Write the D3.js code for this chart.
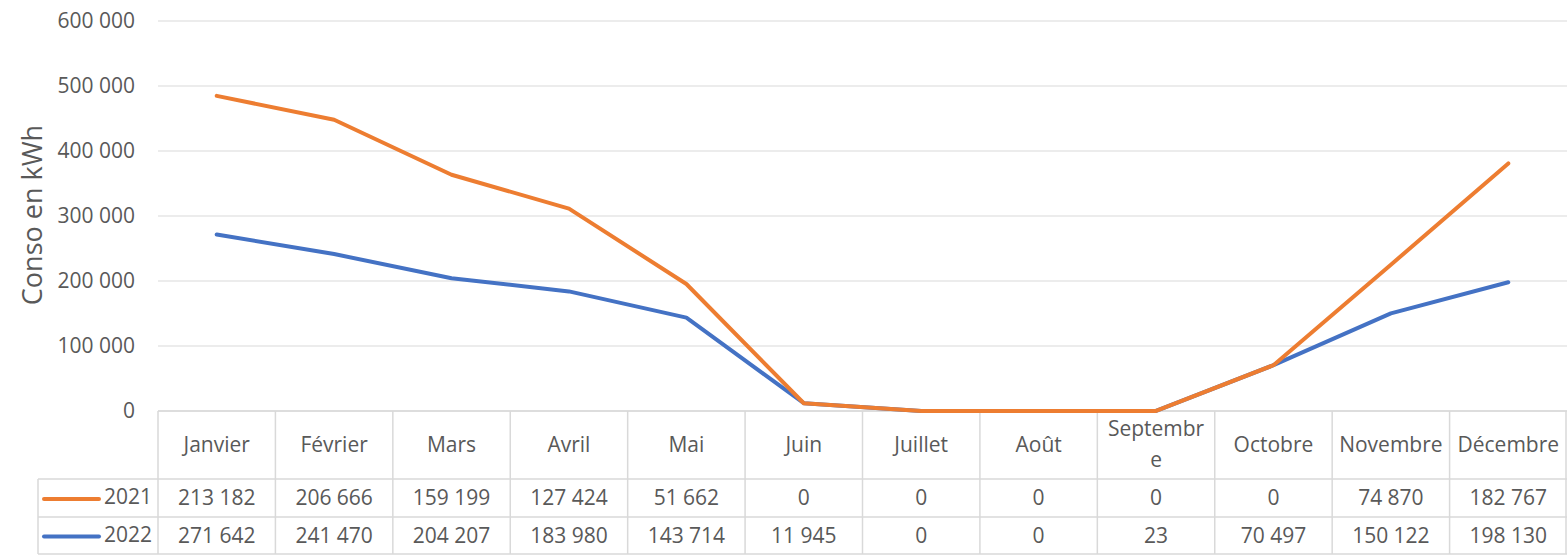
<!DOCTYPE html>
<html>
<head>
<meta charset="utf-8">
<script src="https://cdn.jsdelivr.net/npm/d3@7"></script>
<style>
  body { margin: 0; background: #fff; }
  text { font-family: "Open Sans", "Noto Sans", sans-serif; fill: #595959; }
</style>
</head>
<body>
<div id="chart"></div>
<script>
// data
const months = ["Janvier", "Février", "Mars", "Avril", "Mai", "Juin", "Juillet", "Août", "Septembre", "Octobre", "Novembre", "Décembre"];
const monthLines = [["Janvier"], ["Février"], ["Mars"], ["Avril"], ["Mai"], ["Juin"], ["Juillet"], ["Août"], ["Septembr", "e"], ["Octobre"], ["Novembre"], ["Décembre"]];
const conso2021 = [213182, 206666, 159199, 127424, 51662, 0, 0, 0, 0, 0, 74870, 182767];
const conso2022 = [271642, 241470, 204207, 183980, 143714, 11945, 0, 0, 23, 70497, 150122, 198130];
const yTicks = [0, 100000, 200000, 300000, 400000, 500000, 600000];
const seriesNames = ["2021", "2022"];
const colors = { "2021": "#ED7D31", "2022": "#4472C4" };

const W = 1567, H = 555;
const margin = { left: 158, right: 0, top: 21 };
const plotBottom = 411;
const tableLeft = 38;
const rowTops = [411, 479, 517, 554];
const fs = "21px";

const svg = d3.select("#chart").append("svg")
    .attr("width", W)
    .attr("height", H);

// stacked, 2022 at the bottom
const rows = months.map((m, i) => ({ month: m, "2021": conso2021[i], "2022": conso2022[i] }));
const stack = d3.stack().keys(["2022", "2021"]);
const stacked = stack(rows);

const x = d3.scaleBand()
    .domain(months)
    .range([margin.left, W - margin.right]);

const y = d3.scaleLinear()
    .domain([0, 600000])
    .range([plotBottom, margin.top]);

const fmt = v => d3.format(",")(v).replace(/,/g, " ");

// GRID
svg.append("g")
    .selectAll("line")
    .data(yTicks)
    .enter().append("line")
    .attr("x1", margin.left).attr("x2", W)
    .attr("y1", d => y(d)).attr("y2", d => y(d))
    .style("stroke", "#d9d9d9")
    .style("stroke-width", 1);

// Y AXIS
const yAxis = svg.append("g")
    .attr("transform", "translate(135,0)")
    .call(d3.axisLeft(y).tickValues(yTicks).tickFormat(fmt).tickSize(0).tickPadding(0));
yAxis.select(".domain").remove();
yAxis.selectAll("text")
    .attr("dy", "0.3em")
    .style("font-size", fs)
    .style("font-family", "'Open Sans', sans-serif")
    .style("fill", "#595959");

svg.append("text")
    .text("Conso en kWh")
    .attr("transform", "translate(42,215) rotate(-90)")
    .style("text-anchor", "middle")
    .style("font-size", "27px");

// TABLE
const tbl = svg.append("g").style("stroke", "#d9d9d9").style("stroke-width", 1.5);
// horizontal lines
tbl.append("line").attr("x1", margin.left).attr("x2", W).attr("y1", rowTops[0]).attr("y2", rowTops[0]);
rowTops.slice(1).forEach(t => {
    tbl.append("line").attr("x1", tableLeft).attr("x2", W).attr("y1", t).attr("y2", t);
});
// vertical lines
const colEdges = months.map(m => x(m)).concat([W - 1]);
colEdges.forEach(cx => {
    tbl.append("line").attr("x1", cx).attr("x2", cx).attr("y1", rowTops[0]).attr("y2", rowTops[3]);
});
tbl.append("line").attr("x1", tableLeft).attr("x2", tableLeft).attr("y1", rowTops[1]).attr("y2", rowTops[3]);

// month headers
const hdr = svg.append("g").selectAll("text")
    .data(months)
    .enter().append("text")
    .attr("x", d => x(d) + x.bandwidth() / 2)
    .attr("y", (rowTops[0] + rowTops[1]) / 2)
    .style("text-anchor", "middle")
    .style("font-size", fs);
hdr.each(function(d, i) {
    const lines = monthLines[i];
    const t = d3.select(this);
    lines.forEach((l, j) => {
        t.append("tspan")
            .attr("x", x(d) + x.bandwidth() / 2)
            .attr("dy", j == 0 ? (lines.length == 1 ? "0.35em" : "-0.45em") : "1.5em")
            .text(l);
    });
});

// value rows
const tableData = { "2021": conso2021, "2022": conso2022 };
seriesNames.forEach((name, r) => {
    const cy = (rowTops[r + 1] + rowTops[r + 2]) / 2;
    svg.append("g").selectAll("text")
        .data(tableData[name])
        .enter().append("text")
        .attr("x", (d, i) => x(months[i]) + x.bandwidth() / 2)
        .attr("y", cy)
        .attr("dy", "0.35em")
        .style("text-anchor", "middle")
        .style("font-size", fs)
        .text(d => fmt(d));
    // legend key
    svg.append("line")
        .attr("x1", 44).attr("x2", 99)
        .attr("y1", cy + 1).attr("y2", cy + 1)
        .style("stroke", colors[name])
        .style("stroke-width", 4)
        .style("stroke-linecap", "round");
    svg.append("text")
        .attr("x", 152).attr("y", cy)
        .attr("dy", "0.3em")
        .style("text-anchor", "end")
        .style("font-size", fs)
        .text(name);
});

// LINES
const line = d3.line()
    .x(d => x(d.data.month) + x.bandwidth() / 2)
    .y(d => y(d[1]));

svg.append("g").selectAll("path")
    .data(stacked)
    .enter().append("path")
    .attr("d", d => line(d))
    .style("fill", "none")
    .style("stroke", d => colors[d.key])
    .style("stroke-width", 4)
    .style("stroke-linejoin", "round")
    .style("stroke-linecap", "round");
</script>
</body>
</html>
